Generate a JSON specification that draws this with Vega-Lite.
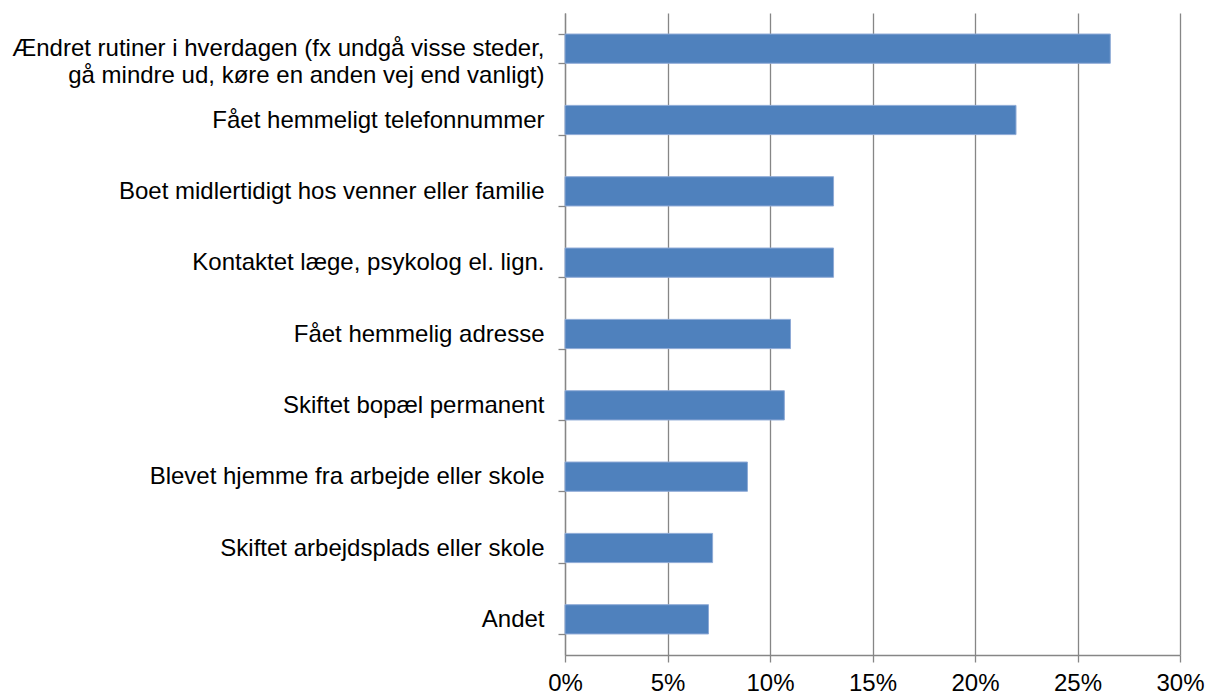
{
  "$schema": "https://vega.github.io/schema/vega-lite/v6.json",
  "width": 615,
  "height": 642,
  "autosize": {"type": "none"},
  "padding": {"left": 565, "top": 13, "right": 27, "bottom": 40},
  "background": "white",
  "config": {"view": {"stroke": null}, "font": "Liberation Sans"},
  "data": {"values": [
    {"kategori": "Ændret rutiner i hverdagen (fx undgå visse steder,|gå mindre ud, køre en anden vej end vanligt)", "andel": 0.266},
    {"kategori": "Fået hemmeligt telefonnummer", "andel": 0.220},
    {"kategori": "Boet midlertidigt hos venner eller familie", "andel": 0.131},
    {"kategori": "Kontaktet læge, psykolog el. lign.", "andel": 0.131},
    {"kategori": "Fået hemmelig adresse", "andel": 0.110},
    {"kategori": "Skiftet bopæl permanent", "andel": 0.107},
    {"kategori": "Blevet hjemme fra arbejde eller skole", "andel": 0.089},
    {"kategori": "Skiftet arbejdsplads eller skole", "andel": 0.072},
    {"kategori": "Andet", "andel": 0.070}
  ]},
  "mark": {"type": "bar", "color": "#4F81BD", "stroke": "#8EAAD6", "strokeWidth": 1},
  "encoding": {
    "y": {
      "field": "kategori", "type": "nominal", "sort": null,
      "scale": {"paddingInner": 0.59, "paddingOuter": 0.295},
      "axis": {
        "title": null,
        "labelExpr": "split(datum.label, '|')",
        "labelFontSize": 24, "labelColor": "#000000", "labelPadding": 14,
        "labelLimit": 600, "labelLineHeight": 27,
        "domainColor": "#868686", "domainWidth": 1.3,
        "tickColor": "#868686", "tickWidth": 1.3, "tickSize": 7,
        "tickBand": "extent", "grid": false
      }
    },
    "x": {
      "field": "andel", "type": "quantitative",
      "scale": {"domain": [0, 0.3], "nice": false},
      "axis": {
        "title": null, "format": ".0%", "values": [0, 0.05, 0.1, 0.15, 0.2, 0.25, 0.3],
        "labelFontSize": 24, "labelColor": "#000000", "labelPadding": 9,
        "domainColor": "#868686", "domainWidth": 1.3,
        "tickColor": "#868686", "tickWidth": 1.3, "tickSize": 7,
        "grid": true, "gridColor": "#868686", "gridWidth": 1.3,
        "labelFlush": false
      }
    }
  }
}
